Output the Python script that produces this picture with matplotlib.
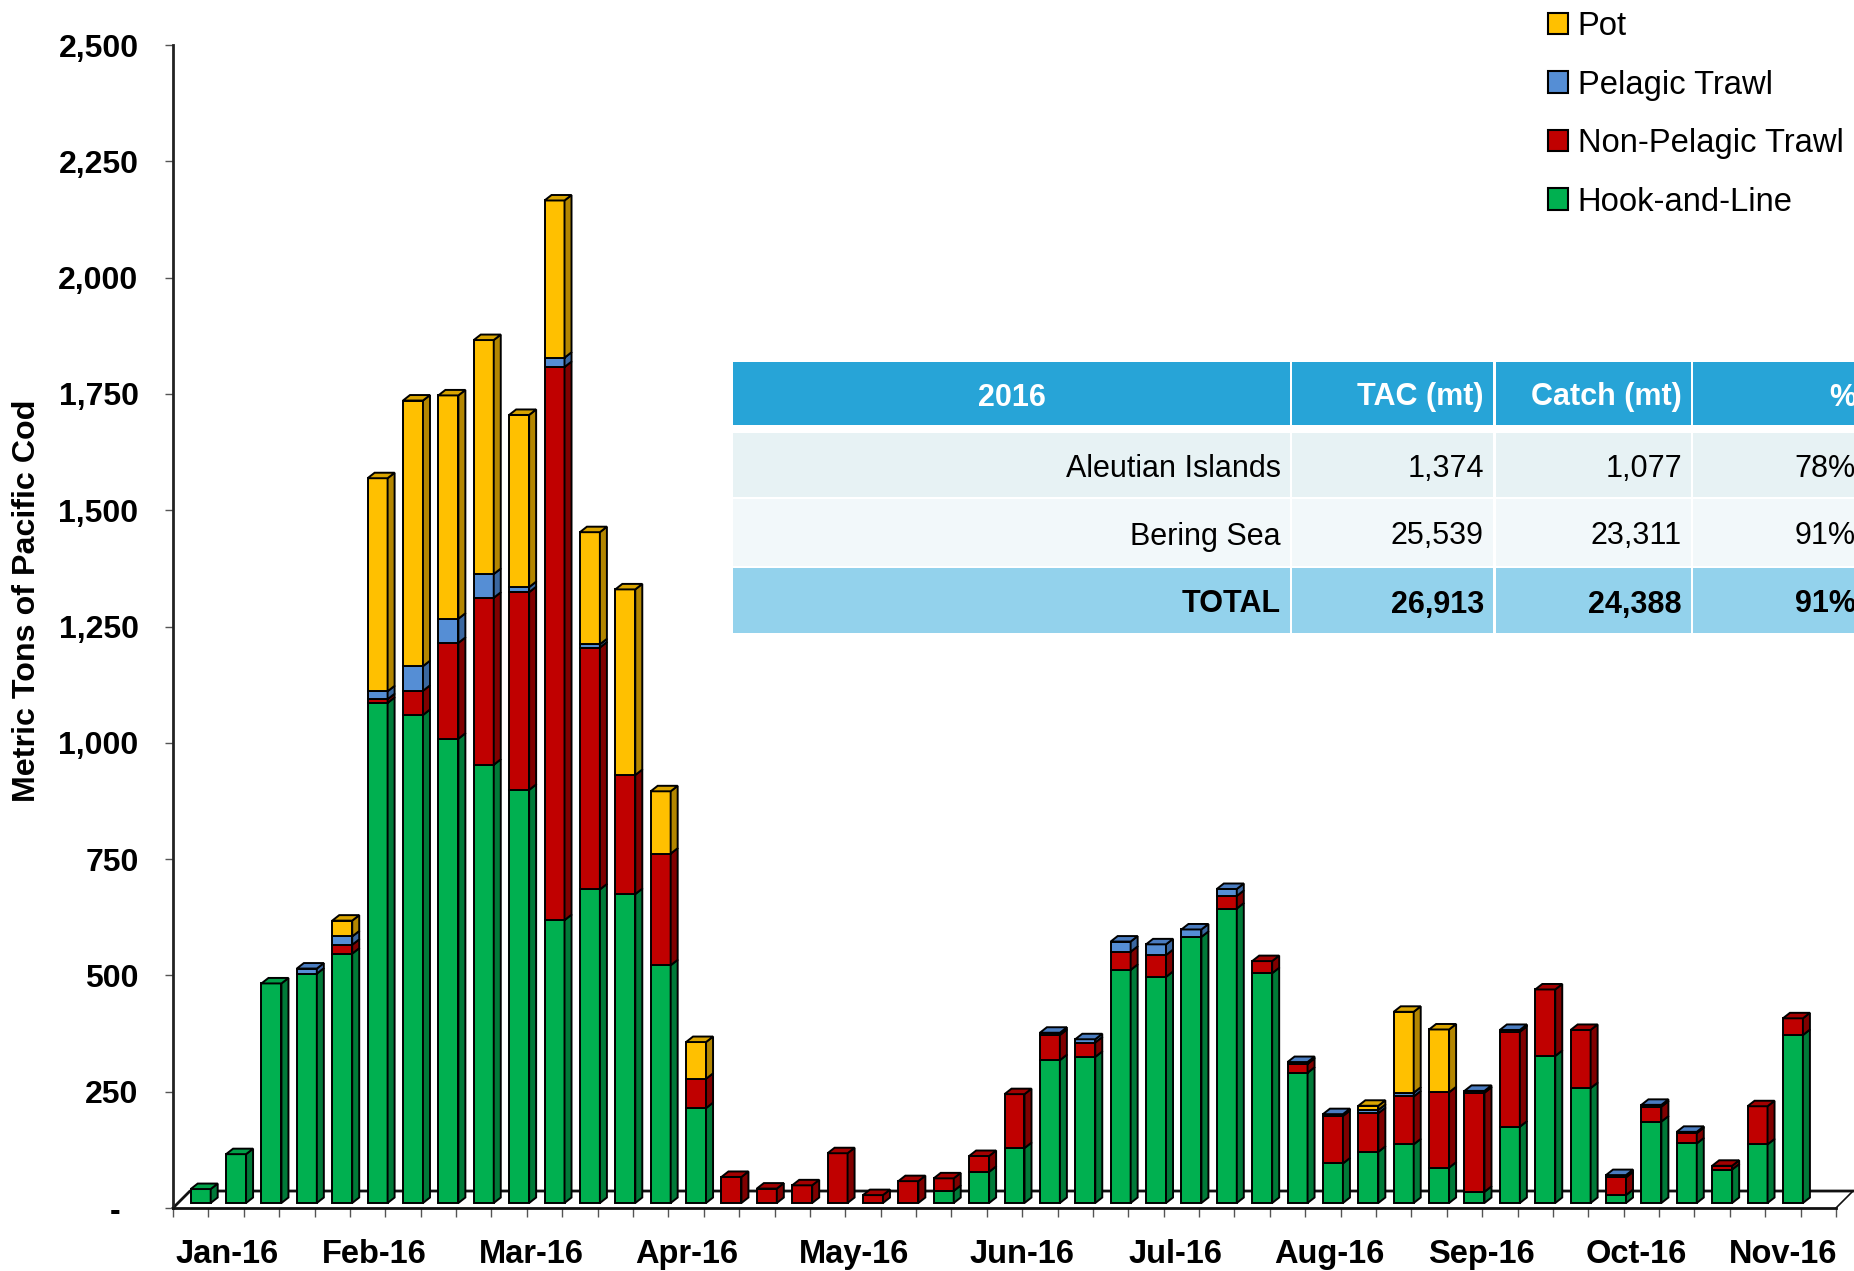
import numpy as np
import matplotlib.pyplot as plt
from matplotlib.patches import Polygon, Patch, Rectangle

plt.rcParams['font.family'] = ['Liberation Sans', 'DejaVu Sans']

# weekly Pacific cod catch (mt), 47 weeks, last week empty
hook_line = [30, 105, 472, 493, 536, 1075, 1049, 998, 942, 888, 608, 674, 664, 511, 204,
             0, 0, 0, 0, 0, 0, 26, 67, 118, 307, 314, 501, 486, 572, 633, 494, 280,
             85, 110, 126, 76, 24, 164, 316, 247, 17, 175, 128, 72, 126, 361, 0]
non_pelagic = [0, 0, 0, 0, 19, 8, 52, 206, 359, 425, 1189, 520, 256, 240, 63,
               56, 31, 38, 107, 17, 47, 27, 34, 116, 54, 31, 39, 47, 0, 27, 26, 19,
               102, 83, 103, 162, 213, 204, 143, 125, 38, 32, 22, 8, 82, 36, 0]
pelagic = [0, 0, 0, 11, 18, 17, 53, 52, 51, 11, 20, 7, 0, 0, 0,
           0, 0, 0, 0, 0, 0, 0, 0, 0, 5, 7, 22, 23, 16, 15, 0, 4,
           4, 7, 8, 0, 4, 4, 0, 0, 5, 4, 3, 0, 0, 0, 0]
pot = [0, 0, 0, 0, 34, 458, 571, 480, 503, 370, 338, 241, 399, 134, 79,
       0, 0, 0, 0, 0, 0, 0, 0, 0, 0, 0, 0, 0, 0, 0, 0, 0,
       0, 9, 174, 135, 0, 0, 0, 0, 0, 0, 0, 0, 0, 0, 0]

month_labels = ['Jan-16', 'Feb-16', 'Mar-16', 'Apr-16', 'May-16', 'Jun-16',
                'Jul-16', 'Aug-16', 'Sep-16', 'Oct-16', 'Nov-16']
month_weeks = [1.53, 5.70, 10.12, 14.52, 19.24, 23.98, 28.33, 32.67, 36.98, 41.36, 45.5]

table_header = ['2016', 'TAC (mt)', 'Catch (mt)', '%']
table_rows = [['Aleutian Islands', '1,374', '1,077', '78%'],
              ['Bering Sea', '25,539', '23,311', '91%'],
              ['TOTAL', '26,913', '24,388', '91%']]

# name, values, front / side / top colours
series = [
    ('Hook-and-Line', hook_line, '#00B050', '#007A38', '#00A048'),
    ('Non-Pelagic Trawl', non_pelagic, '#C00000', '#800000', '#A30000'),
    ('Pelagic Trawl', pelagic, '#558ED5', '#3A67A0', '#4A7CC0'),
    ('Pot', pot, '#FFC000', '#B38600', '#D9A400'),
]

W, H = 1854, 1271
fig = plt.figure(figsize=(W / 100, H / 100), dpi=100)
ax = fig.add_axes([173 / W, 63 / H, 1663 / W, 1163 / H])

n = len(hook_line)
x = np.arange(n)
ax.set_xlim(0, n)
ax.set_ylim(0, 2500)

bar_w = 0.565
base = 10.75     # front face of bars sits slightly above the floor edge
dx, dy = 0.198, 11.8
lw = 1.4

cum = np.zeros(n)
top_col = [None] * n
for name, vals, front, side, top in series:
    vals = np.array(vals, float)
    idx = np.nonzero(vals)[0]
    ax.bar(x[idx] + 0.5, vals[idx], width=bar_w, bottom=base + cum[idx], align='edge',
           color=front, edgecolor='black', linewidth=lw, zorder=3)
    for i in idx:
        y0 = base + cum[i]
        y1 = y0 + vals[i]
        xr = x[i] + 0.5 + bar_w
        ax.add_patch(Polygon([(xr, y0), (xr + dx, y0 + dy), (xr + dx, y1 + dy), (xr, y1)],
                             closed=True, fc=side, ec='black', lw=lw, zorder=3))
        top_col[i] = top
    cum += vals

for i in range(n):
    if top_col[i] is None:
        continue
    y1 = base + cum[i]
    xl = x[i] + 0.5
    ax.add_patch(Polygon([(xl, y1), (xl + dx, y1 + dy), (xl + bar_w + dx, y1 + dy), (xl + bar_w, y1)],
                         closed=True, fc=top_col[i], ec='black', lw=lw, zorder=3))

# floor of the 3d plot
fdx, fdy = 0.48, 36.5
ax.plot([0, fdx, n + fdx], [0, fdy, fdy], color='#111111', lw=2.0, zorder=1, clip_on=False)
ax.plot([n, n + fdx], [0, fdy], color='#111111', lw=1.2, zorder=1, clip_on=False)

for s in ['top', 'right']:
    ax.spines[s].set_visible(False)
ax.spines['left'].set_linewidth(2.0)
ax.spines['left'].set_color('#222222')
ax.spines['bottom'].set_linewidth(2.0)
ax.spines['bottom'].set_color('#111111')
ax.spines['bottom'].set_bounds(0, n)

yt = list(range(0, 2501, 250))
ax.set_yticks(yt, ['-  '] + [f'{v:,}' for v in yt[1:]], fontweight='bold')
ax.tick_params(axis='y', length=5.8, width=1.0, color='#555555', pad=19, labelsize=23)

ax.set_xticks(month_weeks, month_labels, fontweight='bold')
ax.set_xticks(np.arange(0, n + 1), minor=True)
ax.tick_params(axis='x', which='major', length=0, pad=22.5, labelsize=23.5)
ax.tick_params(axis='x', which='minor', length=6.5, width=1.0, color='#555555')

fig.text(27 / W, 1 - 601 / H, 'Metric Tons of Pacific Cod', rotation=90, ha='center',
         va='center', fontsize=23.2, fontweight='bold')

handles = [Patch(facecolor=c, edgecolor='black', linewidth=1.5, label=nm)
           for nm, _, c, _, _ in series[::-1]]
fig.legend(handles=handles, loc='upper left', bbox_to_anchor=(1548 / W, 1 - 11 / H),
           frameon=False, fontsize=23.6, handlelength=0.62, handleheight=0.62,
           handletextpad=0.28, labelspacing=0.84, borderpad=0, borderaxespad=0)

# summary table drawn in pixel space on top
tx = fig.add_axes([0, 0, 1, 1], zorder=5)
tx.set_xlim(0, W)
tx.set_ylim(H, 0)
tx.axis('off')
tx.patch.set_alpha(0)

col_edges = [(733, 1290), (1292, 1493), (1496, 1691), (1693, 1920)]
text_right = [None, 1484, 1682, 1856]
row_spans = [(362, 425), (433, 497), (499, 566), (568, 633)]
row_bg = ['#27A4D7', '#E7F2F4', '#F2F8FA', '#93D2EC']
rows = [table_header] + table_rows

for r, ((y0, y1), bg, cells) in enumerate(zip(row_spans, row_bg, rows)):
    yc = (y0 + y1) / 2 + 4
    bold = r in (0, 3)
    color = 'white' if r == 0 else 'black'
    for c, ((x0, x1), txt) in enumerate(zip(col_edges, cells)):
        tx.add_patch(Rectangle((x0, y0), x1 - x0, y1 - y0, fc=bg, ec='none'))
        if r == 0 and c == 0:
            tx.text((x0 + x1) / 2, yc, txt, ha='center', va='center', fontsize=22,
                    fontweight='bold', color=color)
        else:
            xr = x1 - 9 if c == 0 else text_right[c]
            tx.text(xr, yc, txt, ha='right', va='center', fontsize=22,
                    fontweight='bold' if bold else 'normal', color=color)

fig.savefig('out.png', dpi=100)
